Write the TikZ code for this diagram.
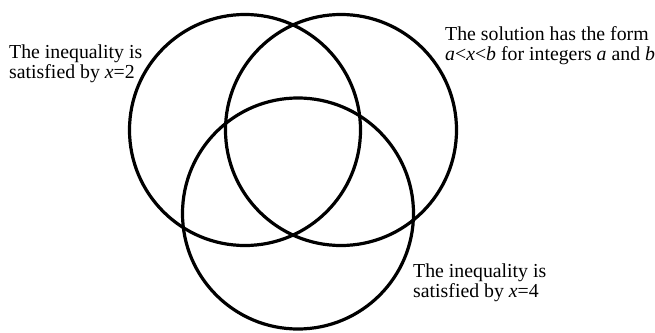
\documentclass[tikz,border=0pt]{standalone}
\usepackage{fontspec}
\setmainfont{Liberation Serif}
\usetikzlibrary{positioning}
\tikzset{
  venn/.style={circle,draw,line width=3.2pt,minimum size=231pt,inner sep=0pt},
  lbl/.style={align=left,inner sep=0pt,anchor=base west,
              font=\fontsize{19.8}{19.5}\selectfont}
}

\begin{document}
\begin{tikzpicture}[x=1pt,y=-1pt]
  \useasboundingbox (0,0) rectangle (655,332);
  \node[venn] (setA) at (245,130) {};
  \node[venn] (setB) at (341,130) {};
  \node[venn] (setC) at (298,213.5) {};
  % base anchor sits on the last line
  \node[lbl] (lblA) at (9,78) {The inequality is\\satisfied by \textit{x}=2};
  \node[lbl] (lblB) at (445,60) {The solution has the form\\
    \textit{a}<\textit{x}<\textit{b} for integers \textit{a} and \textit{b}};
  \node[lbl] (lblC) at (413,297) {The inequality is\\satisfied by \textit{x}=4};
\end{tikzpicture}
\end{document}
